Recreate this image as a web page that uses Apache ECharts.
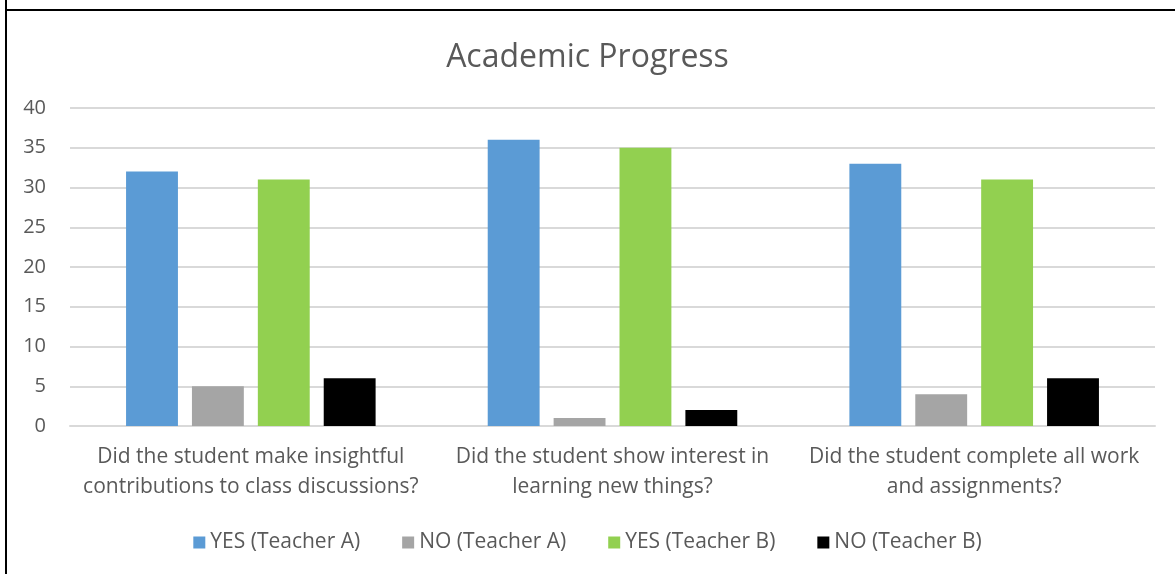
<!DOCTYPE html>
<html>
<head>
<meta charset="utf-8">
<script src="https://cdn.jsdelivr.net/npm/echarts@6/dist/echarts.min.js"></script>
<style>
html,body{margin:0;padding:0;background:#fff;}
#chart{width:1175px;height:574px;}
</style>
</head>
<body>
<div id="chart"></div>
<script>
const categories = [
  "Did the student make insightful\ncontributions to class discussions?",
  "Did the student show interest in\nlearning new things?",
  "Did the student complete all work\nand assignments?"
];
const yesTeacherA = [32, 36, 33];
const noTeacherA = [5, 1, 4];
const yesTeacherB = [31, 35, 31];
const noTeacherB = [6, 2, 6];
const seriesNames = ["YES (Teacher A)", "NO (Teacher A)", "YES (Teacher B)", "NO (Teacher B)"];
const seriesColors = ["#5b9bd5", "#a5a5a5", "#92d050", "#000000"];

const font = "'Open Sans', sans-serif";
const chart = echarts.init(document.getElementById('chart'), null, {renderer: 'canvas'});
const dataSets = [yesTeacherA, noTeacherA, yesTeacherB, noTeacherB];
chart.setOption({
  animation: false,
  backgroundColor: '#ffffff',
  title: {
    text: 'Academic Progress',
    left: 'center',
    top: 37,
    textStyle: {fontFamily: font, fontSize: 32, fontWeight: 'normal', color: '#595959'}
  },
  legend: {
    bottom: 16,
    left: 'center',
    itemWidth: 12,
    itemHeight: 12,
    itemGap: 42,
    icon: 'rect',
    textStyle: {fontFamily: font, fontSize: 21, color: '#595959'},
    data: seriesNames
  },
  grid: {left: 70, right: 20, top: 108, bottom: 148, containLabel: false},
  xAxis: {
    type: 'category',
    data: categories,
    axisLine: {show: true, lineStyle: {color: '#d9d9d9', width: 2}},
    axisTick: {show: false},
    axisLabel: {fontFamily: font, fontSize: 21, color: '#595959', lineHeight: 30, margin: 16, interval: 0}
  },
  yAxis: {
    type: 'value',
    min: 0,
    max: 40,
    interval: 5,
    axisLine: {show: false},
    axisTick: {show: false},
    splitLine: {lineStyle: {color: '#d9d9d9', width: 2}},
    axisLabel: {fontFamily: font, fontSize: 20, color: '#595959', margin: 24}
  },
  series: seriesNames.map((name, i) => ({
    name: name,
    type: 'bar',
    data: dataSets[i],
    barGap: '27%',
    barCategoryGap: '31%',
    itemStyle: {color: seriesColors[i]}
  })),
  graphic: [
    {type: 'line', shape: {x1: 6, y1: 0, x2: 6, y2: 574}, style: {stroke: '#000', lineWidth: 2}},
    {type: 'line', shape: {x1: 5, y1: 10, x2: 1175, y2: 10}, style: {stroke: '#000', lineWidth: 2}}
  ]
});
</script>
</body>
</html>
